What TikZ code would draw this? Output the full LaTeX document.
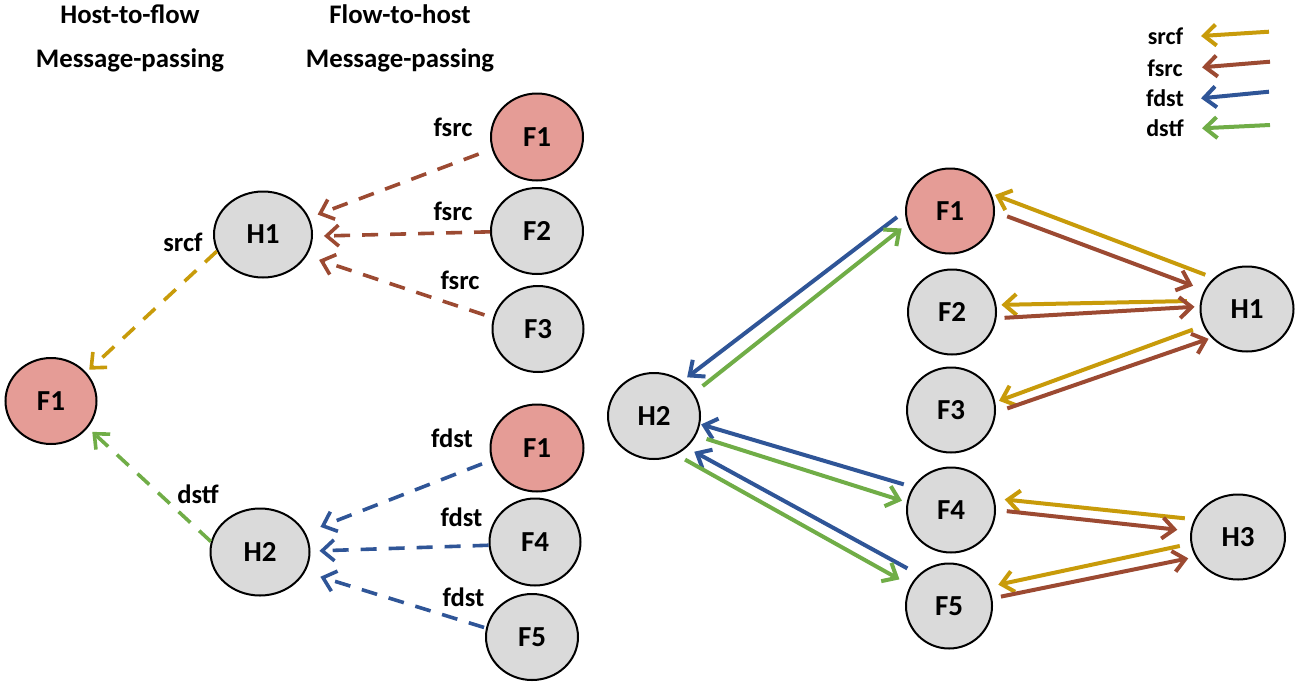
\documentclass[tikz,border=0pt]{standalone}
\usepackage{fontspec}
\setmainfont{Carlito}
\usetikzlibrary{shapes.geometric,arrows.meta}
\definecolor{cgold}{HTML}{C89B0A}
\definecolor{cbrown}{HTML}{9C4A32}
\definecolor{cblue}{HTML}{2F5597}
\definecolor{cgreen}{HTML}{70AD47}
\definecolor{cpink}{HTML}{E59C96}
\definecolor{cgray}{HTML}{DADADA}
\tikzset{
  nd/.style={ellipse,draw=black,line width=1pt,inner sep=0pt,fill=cgray,
    font=\bfseries\fontsize{14.5}{14.5}\selectfont},
  pinknd/.style={nd,fill=cpink},
  hdr/.style={font=\bfseries\fontsize{13.4}{13.4}\selectfont},
  lbl/.style={font=\bfseries\fontsize{13.3}{13.3}\selectfont},
  leg/.style={font=\bfseries\fontsize{12}{12}\selectfont},
  tipend/.style={-{Straight Barb[length=6pt,width=10.5pt]}},
  dashedarrow/.style={line width=1.8pt,dash pattern=on 8pt off 6pt,tipend},
  solidarrow/.style={line width=2pt,tipend},
}
\begin{document}
\begin{tikzpicture}[x=0.5pt,y=-0.5pt]
\useasboundingbox (0,0) rectangle (1310,685);
% headers
\node[hdr] (h1) at (130,14) {Host-to-flow};
\node[hdr] (h2) at (130,60) {Message-passing};
\node[hdr] (h3) at (400,14) {Flow-to-host};
\node[hdr] (h4) at (400,60) {Message-passing};
% left nodes
\node[pinknd,minimum width=45.5pt,minimum height=43pt] (F1L) at (51,401) {F1};
\node[nd,minimum width=49pt,minimum height=43pt] (H1L) at (263,234.5) {H1};
\node[nd,minimum width=49.5pt,minimum height=43.5pt] (H2L) at (260,552) {H2};
\node[pinknd,minimum width=46pt,minimum height=43.5pt] (F1a) at (537,137) {F1};
\node[nd,minimum width=46pt,minimum height=43pt] (F2a) at (537,231) {F2};
\node[nd,minimum width=45.5pt,minimum height=43pt] (F3a) at (538,329) {F3};
\node[pinknd,minimum width=46.5pt,minimum height=43.5pt] (F1b) at (537,448) {F1};
\node[nd,minimum width=45.5pt,minimum height=43.5pt] (F4L) at (535,542) {F4};
\node[nd,minimum width=46pt,minimum height=43pt] (F5L) at (532,637) {F5};
% left edges
\draw[dashedarrow,cgold,shorten >=2pt] (H1L.200.8) -- (F1L.39);
\draw[dashedarrow,cgreen,shorten >=3pt] (H2L.168.5) -- (F1L.-36.8);
\draw[dashedarrow,cbrown,shorten <=7pt,shorten >=4.5pt] (F1a.195.7) -- (H1L.20);
\draw[dashedarrow,cbrown,shorten >=5.5pt] (F2a.181) -- (H1L.-2.7);
\draw[dashedarrow,cbrown,shorten <=4.5pt,shorten >=6.5pt] (F3a.166.4) -- (H1L.-26.7);
\draw[dashedarrow,cblue,shorten <=5pt,shorten >=8pt] (F1b.195.5) -- (H2L.23);
\draw[dashedarrow,cblue,shorten >=4.5pt] (F4L.184) -- (H2L.1.3);
\draw[dashedarrow,cblue,shorten <=1pt,shorten >=8pt] (F5L.169) -- (H2L.-24);
% left labels
\node[lbl] (l1) at (183,242) {srcf};
\node[lbl] (l2) at (198,494) {dstf};
\node[lbl] (l3) at (453,127) {fsrc};
\node[lbl] (l4) at (453,211) {fsrc};
\node[lbl] (l5) at (460,280) {fsrc};
\node[lbl] (l6) at (452,438) {fdst};
\node[lbl] (l7) at (461.5,517) {fdst};
\node[lbl] (l8) at (463.5,597) {fdst};
% right nodes
\node[pinknd,minimum width=44pt,minimum height=42.5pt] (F1R) at (950,211) {F1};
\node[nd,minimum width=44pt,minimum height=42.5pt] (F2R) at (952,312) {F2};
\node[nd,minimum width=44pt,minimum height=42.5pt] (F3R) at (951,410) {F3};
\node[nd,minimum width=44pt,minimum height=42.5pt] (F4R) at (951,510) {F4};
\node[nd,minimum width=43pt,minimum height=42.5pt] (F5R) at (949,606) {F5};
\node[nd,minimum width=46.5pt,minimum height=42.5pt] (H1R) at (1247,309) {H1};
\node[nd,minimum width=46pt,minimum height=43pt] (H2R) at (654,416) {H2};
\node[nd,minimum width=47pt,minimum height=42.5pt] (H3R) at (1238,537) {H3};
% right edges
\draw[solidarrow,cblue,shorten <=5pt,shorten >=3pt] (F1R.180) -- (H2R.51);
\draw[solidarrow,cgreen,shorten <=5.5pt,shorten >=3.5pt] (H2R.30) -- (F1R.197);
\draw[solidarrow,cgold,shorten <=4.5pt,shorten >=2pt] (H1R.137.3) -- (F1R.23.8);
\draw[solidarrow,cbrown,shorten <=6.5pt,shorten >=6pt] (F1R.-1.3) -- (H1R.156.5);
\draw[solidarrow,cgold,shorten <=6.75pt,shorten >=2.5pt] (H1R.170.4) -- (F2R.9.4);
\draw[solidarrow,cbrown,shorten <=4pt,shorten >=2.5pt] (F2R.-8.8) -- (H1R.177);
\draw[solidarrow,cgold,shorten <=5.5pt,shorten >=2pt] (H1R.201.6) -- (F3R.10);
\draw[solidarrow,cbrown,shorten <=6pt,shorten >=1.5pt] (F3R.-3) -- (H1R.219);
\draw[solidarrow,cblue,shorten <=4.7pt,shorten >=0.5pt] (F4R.149.6) -- (H2R.-10);
\draw[solidarrow,cgreen,shorten <=5.5pt,shorten >=2.5pt] (H2R.-25.8) -- (F4R.170);
\draw[solidarrow,cblue,shorten <=6.4pt,shorten >=4.3pt] (F5R.134) -- (H2R.-44);
\draw[solidarrow,cgreen,shorten <=5pt,shorten >=6.2pt] (H2R.-60) -- (F5R.152.3);
\draw[solidarrow,cgold,shorten <=4.7pt,shorten >=5.2pt] (H3R.158.5) -- (F4R.15);
\draw[solidarrow,cbrown,shorten <=5.4pt,shorten >=6.6pt] (F4R.-0.7) -- (H3R.173);
\draw[solidarrow,cgold,shorten <=5.5pt,shorten >=5pt] (H3R.188.7) -- (F5R.26.8);
\draw[solidarrow,cbrown,shorten <=4.4pt,shorten >=3.6pt] (F5R.10) -- (H3R.205.6);
% legend
\node[leg] (g1) at (1165.5,36.5) {srcf};
\node[leg] (g2) at (1165,68) {fsrc};
\node[leg] (g3) at (1165,98.5) {fdst};
\node[leg] (g4) at (1165,128.5) {dstf};
\coordinate (s1) at (1269,31.7); \coordinate (e1) at (1201,36);
\coordinate (s2) at (1270,61.7); \coordinate (e2) at (1202,67.3);
\coordinate (s3) at (1269,91.7); \coordinate (e3) at (1201,98.3);
\coordinate (s4) at (1270,125);  \coordinate (e4) at (1202,128.3);
\draw[solidarrow,cgold] (s1) -- (e1);
\draw[solidarrow,cbrown] (s2) -- (e2);
\draw[solidarrow,cblue] (s3) -- (e3);
\draw[solidarrow,cgreen] (s4) -- (e4);
\end{tikzpicture}
\end{document}
